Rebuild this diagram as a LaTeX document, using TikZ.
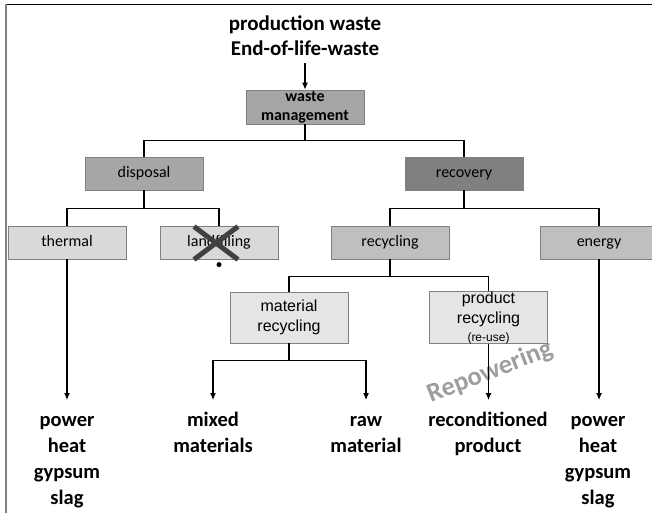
\documentclass[tikz,border=0pt]{standalone}
\usepackage{fontspec}
\setmainfont{Carlito}
\newfontfamily\arialfont{Liberation Sans}
\usetikzlibrary{positioning,arrows.meta}
\newcommand{\toprow}{\rule{0pt}{17pt}}

\begin{document}
\begin{tikzpicture}[x=1pt, y=-1pt,
    box/.style={rectangle, draw=black!50, line width=0.8pt, minimum width=118pt,
        minimum height=33pt, inner sep=0pt, align=center, font=\fontsize{16}{20}\selectfont},
    onerow/.style={text height=11pt, text depth=4pt},
    boxmid/.style={box, fill=black!35},
    boxdark/.style={box, fill=black!50},
    boxlight/.style={box, fill=black!15},
    boxsoft/.style={box, fill=black!25},
    boxpale/.style={box, fill=black!10, minimum height=51pt, font=\arialfont\fontsize{16}{20}\selectfont},
    result/.style={align=center, anchor=north, inner sep=0pt,
        font=\bfseries\fontsize{20.5}{26}\selectfont},
    line/.style={draw, line width=1.1pt},
    arrow/.style={line, -{Latex[length=7pt,width=6pt]}},
    cross/.style={draw, line width=5pt, black!75},
    dot/.style={circle, fill=black, inner sep=0pt, minimum size=5pt}
]
    \useasboundingbox (0,0) rectangle (652,512);
    % frame
    \draw[line width=1.3pt] (5,4.5) -- (660,4.5);
    \draw[black!50, line width=2pt] (5.5,4) -- (5.5,520);

    \node[font=\bfseries\fontsize{21}{25}\selectfont, align=center] (source) at (305,36) {production waste\\End-of-life-waste};
    \node[boxmid, minimum height=34pt, font=\bfseries\fontsize{16}{19}\selectfont] (wm) at (305,107) {waste\\management};

    \node[boxmid, onerow] (disposal) at (144,173.5) {disposal};
    \node[boxdark, onerow] (recovery) at (464,173.5) {recovery};

    \node[boxlight, onerow] (thermal) at (67,242.5) {thermal};
    \node[boxlight, onerow] (landfill) at (219,242.5) {landfilling};
    \node[boxsoft, onerow] (recycling) at (390,242.5) {recycling};
    \node[boxsoft, onerow] (energy) at (599,242.5) {energy};

    \node[boxpale] (matrec) at (289,317.5) {material\\recycling};
    \node[boxpale] (prodrec) at (488.5,317.5) {product\\recycling\\[-2pt]{\fontsize{12}{14}\selectfont(re-use)}};

    \node[result] (heatL) at (67,409) {\toprow power\\heat\\gypsum\\slag};
    \node[result] (mixed) at (213,409) {\toprow mixed\\materials};
    \node[result] (raw) at (366,409) {\toprow raw\\material};
    \node[result] (recond) at (488,409) {\toprow reconditioned\\product};
    \node[result] (heatR) at (598,409) {\toprow power\\heat\\gypsum\\slag};

    \node[font=\bfseries\fontsize{26.5}{26.5}\selectfont, text=black!38, rotate=21] (repower) at (490,372) {Repowering};

    \coordinate (arrowend) at (0,400);

    % tree
    \draw[arrow, shorten <=4pt] (source.south) -- (wm.north);
    \draw[line] (wm.south) -- ++(0,16) -| (disposal.north);
    \draw[line] (wm.south) ++(0,16) -| (recovery.north);
    \draw[line] (disposal.south) -- ++(0,18) -| (thermal.north);
    \draw[line] (disposal.south) ++(0,18) -| (landfill.north);
    \draw[line] (recovery.south) -- ++(0,18) -| (recycling.north);
    \draw[line] (recovery.south) ++(0,18) -| (energy.north);
    \draw[line] (recycling.south) -- ++(0,17) -| (matrec.north);
    \draw[line] (recycling.south) ++(0,17) -| (prodrec.north);

    \draw[arrow] (thermal.south) -- (thermal.south |- arrowend);
    \draw[arrow] (matrec.south) -- ++(0,17) -| (mixed.north |- arrowend);
    \draw[arrow] (matrec.south) ++(0,17) -| (raw.north |- arrowend);
    \draw[arrow] (prodrec.south) -- (prodrec.south |- arrowend);
    \draw[arrow] (energy.south) -- (energy.south |- arrowend);

    % landfilling struck out
    \draw[cross] ([shift={(-25,-16)}]landfill.center) -- ([shift={(19,17)}]landfill.center);
    \draw[cross] ([shift={(19,-16)}]landfill.center) -- ([shift={(-25,17)}]landfill.center);
    \node[dot, below=2.5pt of landfill.south] (lfdot) {};
\end{tikzpicture}
\end{document}
